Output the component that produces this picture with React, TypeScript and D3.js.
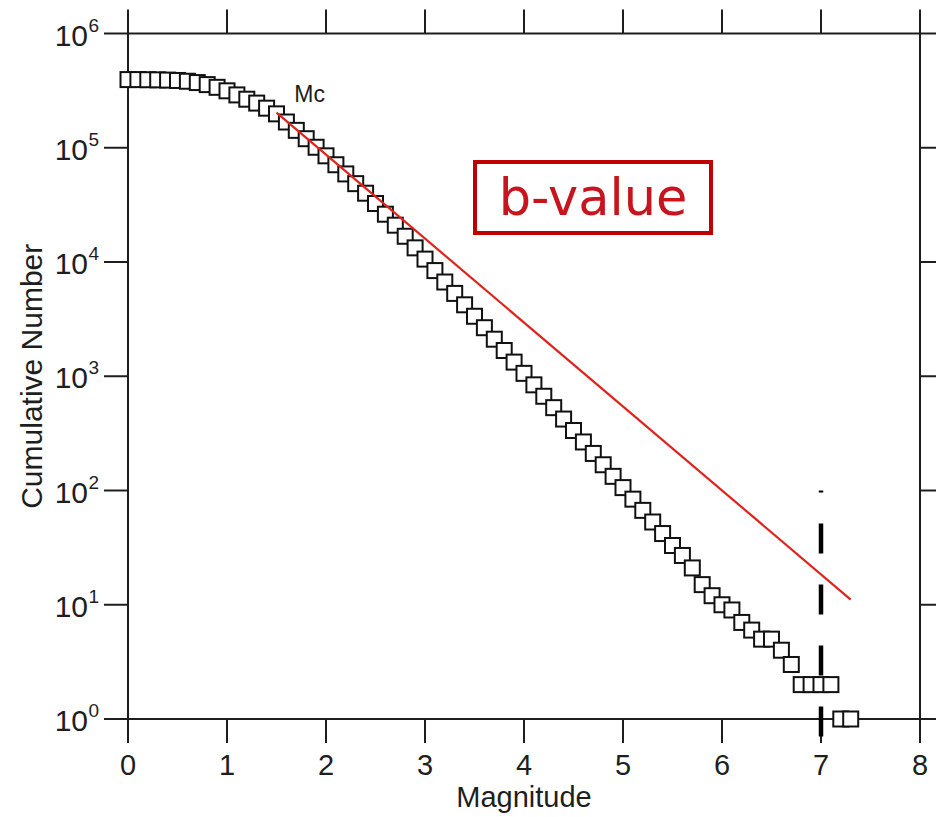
import React from "react";
import * as d3 from "d3";

const magnitudes = [
  0.0, 0.1, 0.2, 0.3, 0.4, 0.5, 0.6, 0.7, 0.8, 0.9,
  1.0, 1.1, 1.2, 1.3, 1.4, 1.5, 1.6, 1.7, 1.8, 1.9,
  2.0, 2.1, 2.2, 2.3, 2.4, 2.5, 2.6, 2.7, 2.8, 2.9,
  3.0, 3.1, 3.2, 3.3, 3.4, 3.5, 3.6, 3.7, 3.8, 3.9,
  4.0, 4.1, 4.2, 4.3, 4.4, 4.5, 4.6, 4.7, 4.8, 4.9,
  5.0, 5.1, 5.2, 5.3, 5.4, 5.5, 5.6, 5.7, 5.8, 5.9,
  6.0, 6.1, 6.2, 6.3, 6.4, 6.5, 6.6, 6.7, 6.8, 6.9,
  7.0, 7.1, 7.2, 7.3,
];

const cumulativeCounts = [
  395000, 395000, 394000, 393000, 391000, 388000, 382000, 372000, 357000, 338000,
  315000, 290000, 266000, 246000, 222000, 198000, 168000, 142000, 120000, 101000,
  85000, 71000, 59000, 48500, 40000, 32500, 26200, 21000, 16800, 13300,
  10600, 8410, 6680, 5310, 4220, 3350, 2660, 2110, 1680, 1330,
  1060, 841, 668, 531, 422, 335, 266, 211, 168, 133,
  106, 84, 67, 53, 42, 33, 27, 21, 15, 12,
  10, 9, 7, 6, 5, 5, 4, 3, 2, 2,
  2, 2, 1, 1,
];

// b-value fit line (Gutenberg-Richter), endpoints
const fitMagnitudes = [1.5, 7.3];
const fitCounts = [203000, 11.1];

// Mc label and max-magnitude dashed marker
const mcLabel = { text: "Mc", magnitude: 1.7, count: 250000 };
const markerMagnitude = 7;
const markerTopCount = 100;

const xTicks = [0, 1, 2, 3, 4, 5, 6, 7, 8];
const yTickExponents = [0, 1, 2, 3, 4, 5, 6];

const xTitle = "Magnitude";
const yTitle = "Cumulative Number";
const boxText = "b-value";

export default function App() {
  const W = 936;
  const H = 817;
  const left = 128, right = 920, top = 33.5, bottom = 719;
  const x = d3.scaleLinear().domain([0, 8]).range([left, right]);
  const y = d3.scaleLog().domain([1, 1e6]).range([bottom, top]);
  const tick = 24;
  const axisColor = "#1e1e1e";
  const font = "'Liberation Sans', Arial, Helvetica, sans-serif";

  const fitLine = d3
    .line<number>()
    .x((_, i) => x(fitMagnitudes[i]))
    .y((_, i) => y(fitCounts[i]))(fitMagnitudes);

  const sq = 15;

  return (
    <svg
      width={W}
      height={H}
      style={{ position: "absolute", left: 0, top: 0, background: "#fff" }}
      fontFamily={font}
    >
      <rect x={0} y={0} width={W} height={H} fill="#fff" />
      {/* frame */}
      <g stroke={axisColor} strokeWidth={2} fill="none">
        <line x1={left} x2={right} y1={top} y2={top} />
        <line x1={left} x2={right} y1={bottom} y2={bottom} />
        <line x1={left} x2={left} y1={top} y2={bottom} />
        <line x1={right} x2={right} y1={top} y2={bottom} />
        {xTicks.map((t) => (
          <g key={"xt" + t}>
            <line x1={x(t)} x2={x(t)} y1={bottom} y2={bottom + tick} />
            <line x1={x(t)} x2={x(t)} y1={top} y2={top - tick} />
          </g>
        ))}
        {yTickExponents.map((e) => (
          <g key={"yt" + e}>
            <line x1={left - tick} x2={left} y1={y(Math.pow(10, e))} y2={y(Math.pow(10, e))} />
            <line x1={right} x2={right + tick} y1={y(Math.pow(10, e))} y2={y(Math.pow(10, e))} />
          </g>
        ))}
      </g>

      {/* x tick labels */}
      {xTicks.map((t) => (
        <text
          key={"xl" + t}
          x={x(t)}
          y={775}
          textAnchor="middle"
          fontSize={29}
          fill={axisColor}
        >
          {t}
        </text>
      ))}
      {/* y tick labels */}
      {yTickExponents.map((e) => {
        const yy = y(Math.pow(10, e));
        return (
          <g key={"yl" + e} fill={axisColor}>
            <text x={88} y={yy + 12} textAnchor="end" fontSize={30}>
              10
            </text>
            <text x={88.5} y={yy - 2} fontSize={19}>
              {e}
            </text>
          </g>
        );
      })}

      {/* axis titles */}
      <text x={(left + right) / 2} y={807} textAnchor="middle" fontSize={29} fill={axisColor}>
        {xTitle}
      </text>
      <text
        transform={`translate(42, ${(top + bottom) / 2}) rotate(-90)`}
        textAnchor="middle"
        fontSize={30}
        fill={axisColor}
      >
        {yTitle}
      </text>

      {/* data squares */}
      <g stroke="#111" strokeWidth={2} fill="#fff">
        {magnitudes.map((m, i) => (
          <rect
            key={"p" + i}
            x={x(m) - sq / 2}
            y={y(cumulativeCounts[i]) - sq / 2}
            width={sq}
            height={sq}
          />
        ))}
      </g>

      {/* fit line (drawn over the symbols) */}
      <path d={fitLine || ""} stroke="#e0221c" strokeWidth={2.2} fill="none" />

      {/* dashed marker */}
      <line
        x1={x(markerMagnitude)}
        x2={x(markerMagnitude)}
        y1={y(markerTopCount)}
        y2={bottom + 19}
        stroke="#000"
        strokeWidth={4.5}
        strokeDasharray="30 31"
        strokeDashoffset={28}
      />

      {/* Mc label */}
      <text
        x={x(mcLabel.magnitude) - 2}
        y={y(mcLabel.count) + 0}
        fontSize={23}
        fill={axisColor}
      >
        {mcLabel.text}
      </text>

      {/* b-value box */}
      <rect x={475} y={162} width={236} height={71} fill="#fff" stroke="#c00000" strokeWidth={4} />
      <text
        x={593}
        y={215}
        textAnchor="middle"
        fontSize={51}
        fill="#c8141c"
        fontFamily="'DejaVu Sans', Verdana, sans-serif"
      >
        {boxText}
      </text>
    </svg>
  );
}
